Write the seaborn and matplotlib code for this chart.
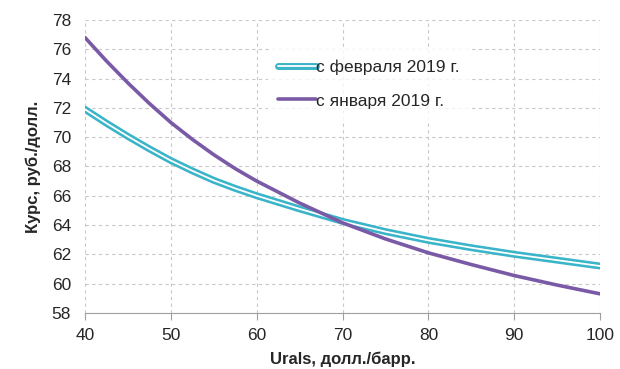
import numpy as np
import pandas as pd
import seaborn as sns
import matplotlib
matplotlib.use("Agg")
import matplotlib.pyplot as plt
import matplotlib.patheffects as pe

# Urals price, USD/bbl
urals = [40, 42.5, 45, 47.5, 50, 52.5, 55, 57.5, 60, 65, 70, 75, 80, 85, 90, 95, 100]
# RUB/USD rate
rate_feb = [71.9, 70.95, 70.05, 69.2, 68.4, 67.7, 67.05, 66.5, 66.0, 65.1, 64.25, 63.55, 62.95, 62.45, 62.0, 61.6, 61.2]
rate_jan = [76.8, 75.2, 73.7, 72.3, 71.0, 69.85, 68.8, 67.85, 67.0, 65.5, 64.15, 63.05, 62.1, 61.3, 60.55, 59.9, 59.3]
series_names = ["с февраля 2019 г.", "с января 2019 г."]
yticks = [58, 60, 62, 64, 66, 68, 70, 72, 74, 76, 78]
xticks = [40, 50, 60, 70, 80, 90, 100]

cyan = "#3ab4c9"
purple = "#7a5aa6"

sns.set_style("white")
plt.rcParams['font.family'] = ['Liberation Sans', 'DejaVu Sans']

fig = plt.figure(figsize=(6.2, 3.69), dpi=100)
ax = fig.add_axes([0.137, 0.152, 0.831, 0.794])

df = pd.DataFrame({"urals": urals, "feb": rate_feb, "jan": rate_jan})

# double line: white core with cyan outline
sns.lineplot(data=df, x="urals", y="feb", ax=ax, color="white", linewidth=1.3,
             label=series_names[0],
             path_effects=[pe.Stroke(linewidth=5, foreground=cyan, joinstyle="round"), pe.Normal()])
sns.lineplot(data=df, x="urals", y="jan", ax=ax, color=purple, linewidth=2.6,
             label=series_names[1])
for ln in ax.get_lines():
    ln.set_solid_joinstyle("round")

ax.set_xlim(40, 100)
ax.set_ylim(58, 78)
ax.set_xticks(xticks)
ax.set_yticks(yticks)
ax.grid(True, color="#c8c8c8", linestyle=(0, (3, 3)), linewidth=0.8)
ax.set_axisbelow(True)
for s in ["top", "right", "left"]:
    ax.spines[s].set_visible(False)
ax.spines["bottom"].set_color("#a0a0a0")
ax.tick_params(axis="x", which="major", direction="out", length=5, color="#a0a0a0",
               labelsize=12.5, pad=6, bottom=True)
ax.tick_params(axis="y", length=0, labelsize=12.5, pad=10)

ax.set_xlabel("Urals, долл./барр.", fontsize=12, fontweight="bold", labelpad=6)
ax.set_ylabel("Курс, руб./долл.", fontsize=12, fontweight="bold", labelpad=8)

leg = ax.legend(loc="upper left", bbox_to_anchor=(0.418, 0.89), bbox_transform=fig.transFigure,
                frameon=True, fontsize=12.5, handlelength=2.2, handletextpad=0.0,
                labelspacing=1.05, borderpad=0.6)
leg.get_frame().set_facecolor("white")
leg.get_frame().set_edgecolor("white")

fig.savefig("out.png", dpi=100)
